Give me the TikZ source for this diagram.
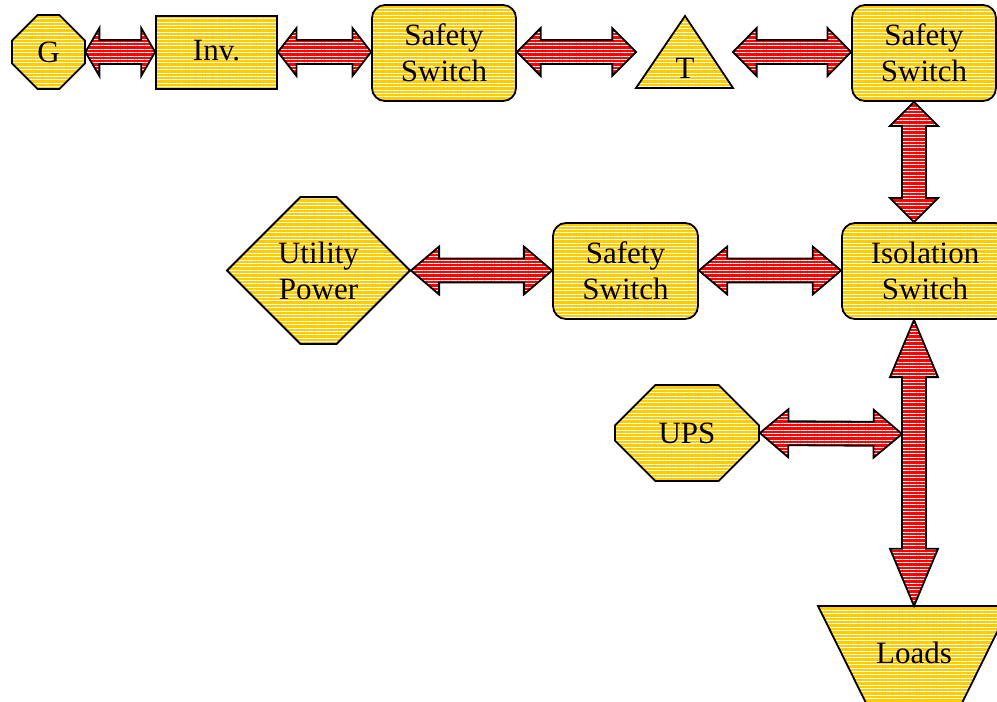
\documentclass[tikz,border=0pt]{standalone}
\usepackage{fontspec}
\setmainfont{Liberation Serif}
\usepackage{tikz}
\usetikzlibrary{calc,shapes.geometric,shapes.misc,patterns.meta}
\definecolor{gold}{HTML}{FFCC00}
\definecolor{wire}{HTML}{FF0000}
\tikzset{
  stripes/.style={pattern={Lines[angle=0, distance=1.7pt, line width=0.45pt]}, pattern color=white},
  unit/.style={draw, line width=0.9pt, preaction={fill=gold}, stripes, align=center, inner sep=1pt,
    font=\fontsize{15.5}{18}\selectfont},
  sw/.style={unit, rounded corners=6.5pt, minimum width=72pt, minimum height=48pt},
  octa/.style={unit, chamfered rectangle},
  flow/.style={draw, line width=0.9pt, preaction={fill=wire}, stripes, line join=miter}
}
\newcommand\fatarrow[2]{%
  \draw[flow] (#1) -- ($(#1)!.2!(#2)!12pt!90:(#2)$) -- ($(#1)!.2!(#2)!6pt!90:(#2)$)
    -- ($(#2)!.2!(#1)!6pt!-90:(#1)$) -- ($(#2)!.2!(#1)!12pt!-90:(#1)$) -- (#2)
    -- ($(#2)!.2!(#1)!12pt!90:(#1)$) -- ($(#2)!.2!(#1)!6pt!90:(#1)$)
    -- ($(#1)!.2!(#2)!6pt!-90:(#2)$) -- ($(#1)!.2!(#2)!12pt!-90:(#2)$) -- cycle;}

\begin{document}
\begin{tikzpicture}[x=0.5pt, y=-0.5pt]
  \useasboundingbox (0,0) rectangle (997,702);
  \clip (0,0) rectangle (997,702);

  \node[octa, minimum width=36.5pt, minimum height=37pt, chamfered rectangle xsep=7pt, chamfered rectangle ysep=9pt] (gen) at (48.5,52) {G};
  \node[unit, minimum width=60.5pt, minimum height=36.5pt] (inv) at (216.5,52.5) {\raisebox{2pt}{Inv.}};
  \node[sw] (ss1) at (444,53) {Safety\\Switch};
  \draw[unit] (636,88) coordinate (tl) -- (685,16) -- (733,88) coordinate (tr) -- cycle;
  \node[font=\fontsize{15.5}{18}\selectfont] (tx) at (685,68) {T};
  \node[sw] (ss2) at (924,53) {Safety\\Switch};

  \node[octa, minimum width=91.5pt, minimum height=72.5pt, chamfered rectangle xsep=23pt, chamfered rectangle ysep=36.25pt] (util) at (318.5,270.5) {Utility\\Power};
  \node[sw, minimum width=72.5pt] (ss3) at (625.5,271) {Safety\\Switch};
  \node[sw, minimum width=83pt] (iso) at (925,271) {Isolation\\Switch};

  \node[octa, minimum width=72pt, minimum height=48pt, chamfered rectangle xsep=14pt, chamfered rectangle ysep=14pt] (ups) at (687,433) {UPS};
  \draw[unit] (818,606) coordinate (ldl) -- (1010,606) -- (962,703) -- (866,703) -- cycle;
  \node[font=\fontsize{15.5}{18}\selectfont] (loads) at (914,653) {Loads};

  \coordinate (bus) at (914,0);
  \coordinate (tee) at (902,434);

  \fatarrow{gen.east}{inv.west |- gen.east}
  \fatarrow{inv.east |- gen.east}{ss1.west |- gen.east}
  \fatarrow{ss1.east |- gen.east}{tl |- gen.east}
  \fatarrow{tr |- gen.east}{ss2.west |- gen.east}
  \fatarrow{ss2.south -| bus}{iso.north -| bus}
  \fatarrow{util.east}{ss3.west |- util.east}
  \fatarrow{ss3.east |- util.east}{iso.west |- util.east}
  \fatarrow{ups.east}{tee}
  \fatarrow{iso.south -| bus}{ldl -| bus}
\end{tikzpicture}
\end{document}
